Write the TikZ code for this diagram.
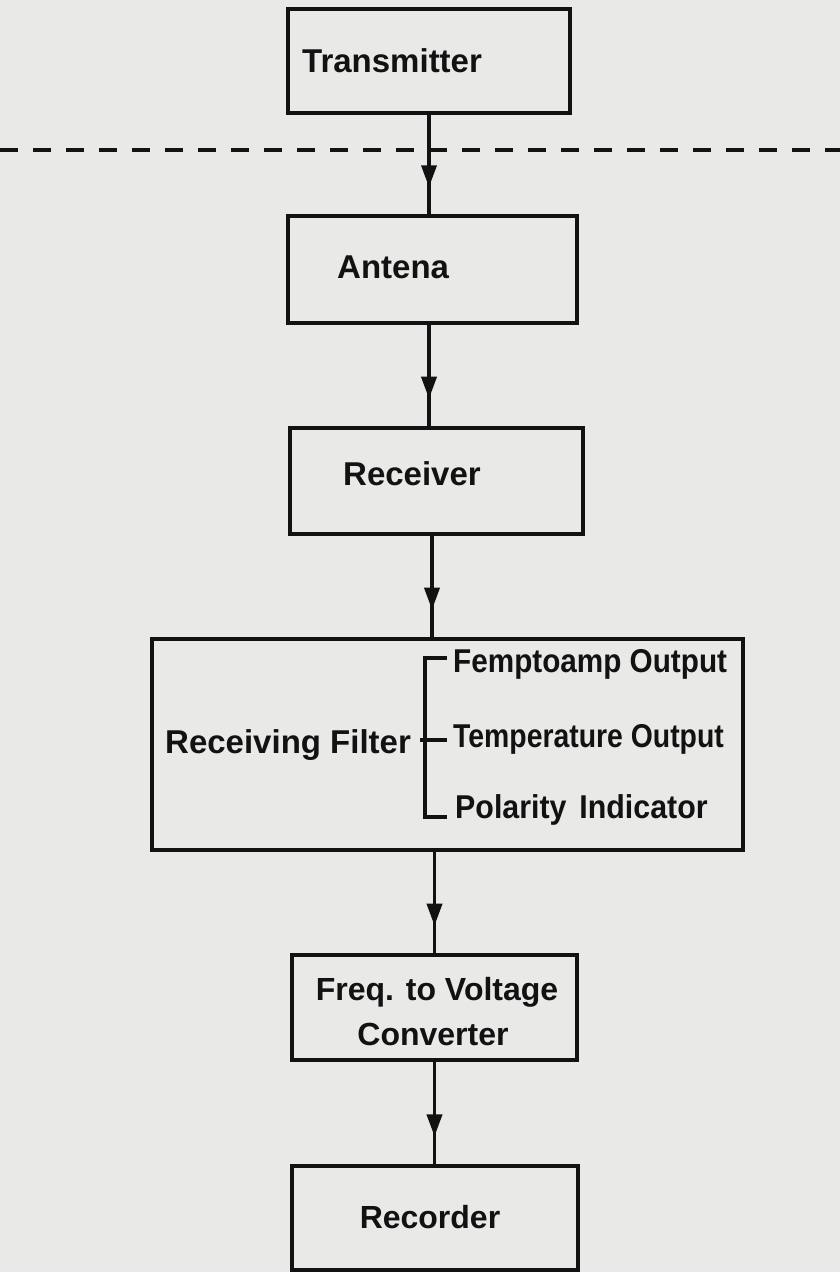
\documentclass[tikz,border=0pt]{standalone}
\usepackage{fontspec}
\setmainfont{Liberation Sans}
\usetikzlibrary{arrows.meta,decorations.markings}
\definecolor{paper}{RGB}{233,233,231}
\definecolor{ink}{RGB}{18,18,18}
\tikzset{
  blk/.style={draw=ink, line width=4pt, rectangle, inner sep=0pt},
  lbl/.style={inner sep=0pt, anchor=base west, text=ink, font=\bfseries\fontsize{33}{38}\selectfont},
  clbl/.style={inner sep=0pt, anchor=base, text=ink, font=\bfseries\fontsize{32}{38}\selectfont},
  flow/.style={draw=ink, line width=3.6pt, postaction={decorate},
    decoration={markings, mark=at position 0.73 with {\arrow{Triangle[width=15pt,length=22pt]}}}},
  bracket/.style={draw=ink, line width=3.4pt},
  sep/.style={draw=ink, line width=4.5pt, dash pattern=on 18pt off 15pt}
}
\begin{document}
\begin{tikzpicture}[x=1pt, y=-1pt]
\fill[paper] (0,0) rectangle (840,1272);
\useasboundingbox (0,0) rectangle (840,1272);

% separator line
\draw[sep] (0,150) -- (840,150);

% boxes
\node[blk, minimum width=282pt, minimum height=104pt] (t)   at (429,61)     {};
\node[blk, minimum width=289pt, minimum height=107pt] (a)   at (432.5,269.5) {};
\node[blk, minimum width=293pt, minimum height=106pt] (r)   at (436.5,481)  {};
\node[blk, minimum width=591pt, minimum height=211pt] (f)   at (447.5,744.5) {};
\node[blk, minimum width=285pt, minimum height=105pt] (fr)  at (434.5,1007.5) {};
\node[blk, minimum width=286pt, minimum height=104pt] (rec) at (435,1218)   {};

% labels
\node[lbl] (tt) at (302,72) {Transmitter};
\node[lbl] (at) at (337,278) {Antena};
\node[lbl] (rt) at (343,485) {Receiver};
\node[lbl] (ft) at (165,753) {Receiving Filter};
\node[lbl] (o1) at (453,672) {\scalebox{0.90}[1]{Femptoamp Output}};
\node[lbl] (o2) at (453,747) {\scalebox{0.86}[1]{Temperature Output}};
\node[lbl] (o3) at (455,818) {\scalebox{0.92}[1]{Polarity\hspace{14pt}Indicator}};
\node[clbl] (fr1) at (437,1000) {Freq. to Voltage};
\node[clbl] (fr2) at (433,1045) {Converter};
\node[clbl] (rect) at (430,1228) {Recorder};

% bracket inside the filter box
\draw[bracket] (447,658) -- (425,658) -- (425,817) -- (447,817);
\draw[bracket] (420,740) -- (447,740);

% connectors
\draw[flow] (t.south) -- (t.south |- a.north);
\draw[flow] (a.south -| t.south) -- (t.south |- r.north);
\draw[flow] ([xshift=-4.5pt]r.south) -- ([xshift=-4.5pt]r.south |- f.north);
\draw[flow] (fr.north |- f.south) -- (fr.north);
\draw[flow] (fr.south) -- (fr.south |- rec.north);
\end{tikzpicture}
\end{document}
